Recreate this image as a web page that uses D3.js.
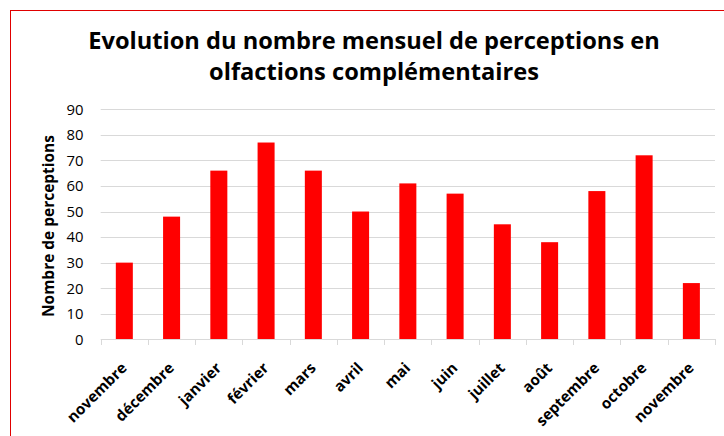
<!DOCTYPE html>
<html><head><meta charset="utf-8">
<script src="https://cdn.jsdelivr.net/npm/d3@7"></script>
<style>html,body{margin:0;padding:0;background:#fff;}svg{display:block;}</style>
</head><body>
<script>
const months = ["novembre","décembre","janvier","février","mars","avril","mai","juin","juillet","août","septembre","octobre","novembre"];
const values = [30,48,66,77,66,50,61,57,45,38,58,72,22];
const yTicks = [0,10,20,30,40,50,60,70,80,90];
const titleLines = ["Evolution du nombre mensuel de perceptions en","olfactions complémentaires"];
const yTitle = "Nombre de perceptions";

const W = 724, H = 436;
const FONT = "'Open Sans', 'Liberation Sans', sans-serif";
const svg = d3.select("body").append("svg").attr("width", W).attr("height", H);
svg.append("rect").attr("x",0).attr("y",0).attr("width",W).attr("height",H).attr("fill","#fff");
svg.append("rect").attr("x",10.5).attr("y",10.5).attr("width",W+20).attr("height",H+20)
  .attr("fill","none").attr("stroke","#e00000").attr("stroke-width",1);

function fitSize(text, weight, target) {
  const t = svg.append("text").attr("font-family",FONT).attr("font-weight",weight).attr("font-size",20).text(text);
  const w = t.node().getComputedTextLength();
  t.remove();
  return 20 * target / w;
}

const x = d3.scaleBand().domain(d3.range(months.length)).range([100.7,715]).paddingInner(0.64).paddingOuter(0.32);
const y = d3.scaleLinear().domain([0,90]).range([339.3,109.3]);

svg.append("g").selectAll("line").data(yTicks.slice(1)).join("line")
  .attr("x1",100.7).attr("x2",715).attr("y1",d=>Math.round(y(d))+0.5).attr("y2",d=>Math.round(y(d))+0.5)
  .attr("stroke","#d9d9d9").attr("stroke-width",1);

svg.append("g").selectAll("rect").data(values).join("rect")
  .attr("x",(d,i)=>x(i)).attr("width",x.bandwidth())
  .attr("y",d=>y(d)).attr("height",d=>y(0)-y(d))
  .attr("fill","#ff0000");

const step = x.step();
const edges = d3.range(months.length+1).map(i => 100.7 + i*step);
const ax = svg.append("g");
ax.append("line").attr("x1",100.7).attr("x2",715).attr("y1",339.5).attr("y2",339.5).attr("stroke","#d9d9d9");
ax.selectAll("line.t").data(edges).join("line").attr("class","t")
  .attr("x1",d=>Math.round(d)+0.5).attr("x2",d=>Math.round(d)+0.5).attr("y1",339).attr("y2",345)
  .attr("stroke","#d9d9d9");

const tickSize = fitSize("90","normal",17);
svg.append("g").selectAll("text").data(yTicks).join("text")
  .attr("x",83.5).attr("y",d=>y(d)).attr("dy","0.36em").attr("text-anchor","end")
  .attr("font-family",FONT).attr("font-size",tickSize).attr("fill","#000").text(d=>d);

const xSize = fitSize("septembre","bold",82);
svg.append("g").selectAll("text").data(months).join("text")
  .attr("transform",(d,i)=>`translate(${x(i)+x.bandwidth()/2+3.5},369) rotate(-45)`)
  .attr("text-anchor","end")
  .attr("font-family",FONT).attr("font-weight","bold").attr("font-size",xSize).attr("fill","#000").text(d=>d);

const ytSize = fitSize(yTitle,"bold",182);
svg.append("text").attr("transform","translate(54,226) rotate(-90)").attr("text-anchor","middle")
  .attr("font-family",FONT).attr("font-weight","bold").attr("font-size",ytSize).text(yTitle);

const tSize = fitSize(titleLines[0],"bold",572);
svg.append("g").selectAll("text").data(titleLines).join("text")
  .attr("x",374).attr("y",(d,i)=>49 + i*31).attr("text-anchor","middle")
  .attr("font-family",FONT).attr("font-weight","bold").attr("font-size",tSize).attr("fill","#000").text(d=>d);
</script>
</body></html>
